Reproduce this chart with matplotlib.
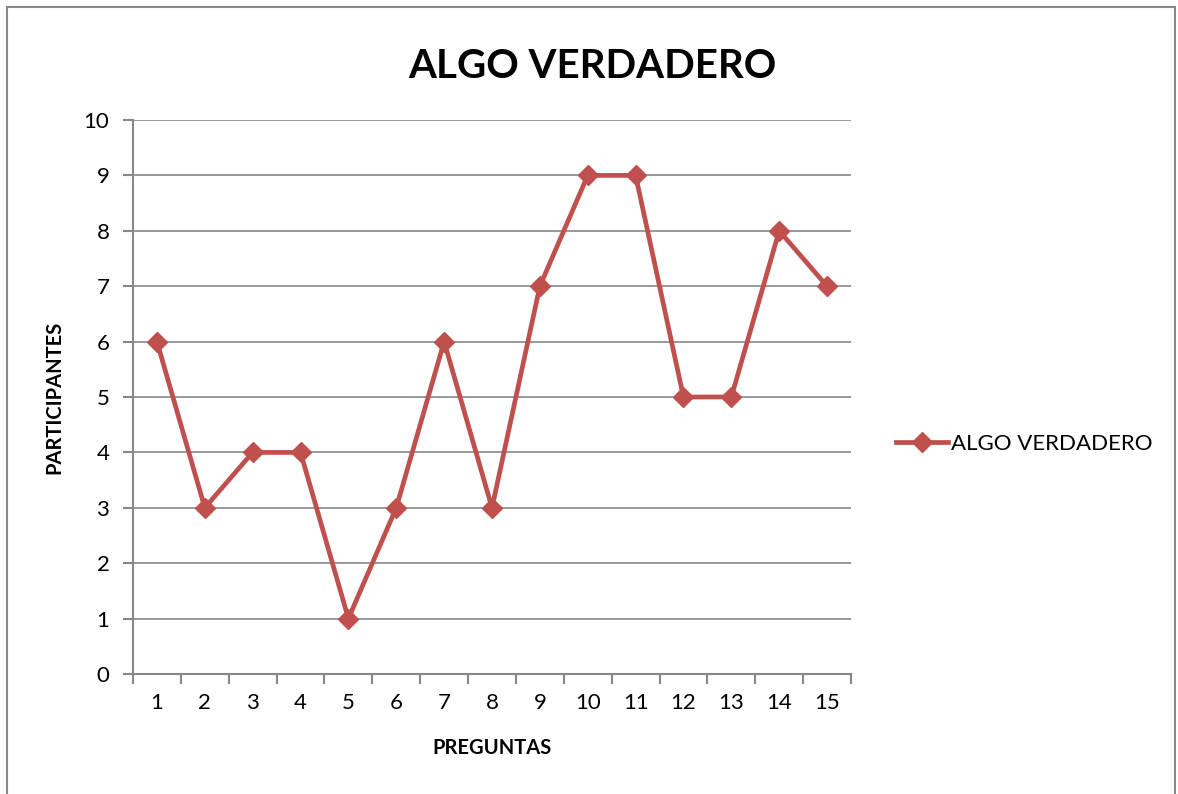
import matplotlib.pyplot as plt
from matplotlib.patches import Rectangle

preguntas = list(range(1, 16))
algo_verdadero = [6, 3, 4, 4, 1, 3, 6, 3, 7, 9, 9, 5, 5, 8, 7]
yticks = list(range(0, 11))

plt.rcParams['font.family'] = ['Lato', 'DejaVu Sans']

fig = plt.figure(figsize=(11.78, 7.94), dpi=100)
ax = fig.add_axes([133 / 1178, 1 - 674 / 794, 718 / 1178, 554 / 794])

# outer chart border
fig.patches.append(Rectangle((7 / 1178, -0.1), 1168 / 1178, 1.1 - 7 / 794,
                             transform=fig.transFigure, fill=False,
                             edgecolor='#888888', linewidth=1.5))

ax.plot(preguntas, algo_verdadero, color='#C0504D', linewidth=3.4,
        marker='D', markersize=10, label='ALGO VERDADERO')

ax.set_xlim(0.5, 15.5)
ax.set_ylim(0, 10)
ax.set_yticks(yticks)
ax.set_xticks(preguntas)
ax.set_xticks([x + 0.5 for x in range(0, 16)], minor=True)
ax.tick_params(axis='x', which='major', length=0, labelsize=16, pad=14)
ax.tick_params(axis='x', which='minor', length=7, color='#888888', width=1.5)
ax.tick_params(axis='y', length=7, color='#888888', width=1.5, labelsize=16, pad=10)
ax.grid(axis='y', color='#888888', linewidth=1.2)
ax.set_axisbelow(True)
for s in ['top', 'right']:
    ax.spines[s].set_visible(False)
for s in ['left', 'bottom']:
    ax.spines[s].set_color('#888888')
    ax.spines[s].set_linewidth(1.5)

ax.set_title('ALGO VERDADERO', fontsize=29, fontweight='bold', pad=30, x=0.64)
ax.set_xlabel('PREGUNTAS', fontsize=14.5, fontweight='bold', labelpad=18)
ax.set_ylabel('PARTICIPANTES', fontsize=14.5, fontweight='bold', labelpad=14)

ax.legend(loc='center left', bbox_to_anchor=(1.035, 0.415), frameon=False,
          fontsize=16, handlelength=2.35, handletextpad=0.1)

fig.savefig('out.png', dpi=100)
